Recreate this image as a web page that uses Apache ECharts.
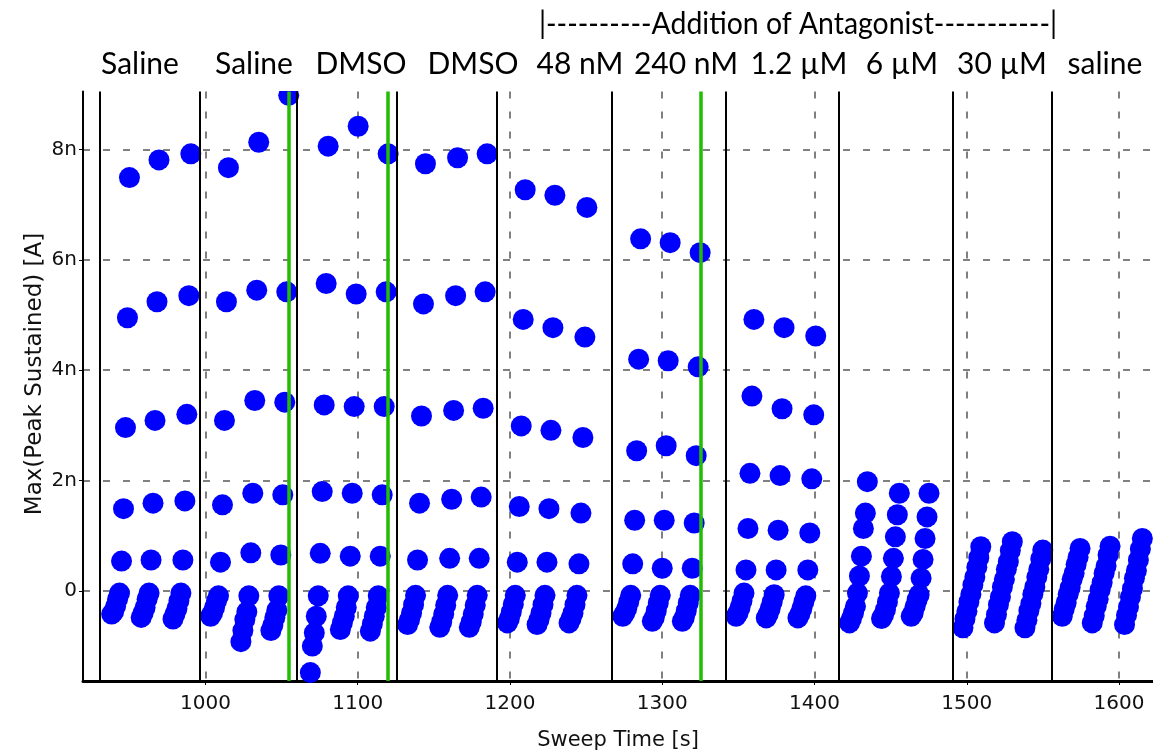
<!DOCTYPE html>
<html>
<head>
<meta charset="utf-8">
<script src="https://cdn.jsdelivr.net/npm/echarts@6/dist/echarts.min.js"></script>
<style>
  html, body { margin: 0; padding: 0; background: #ffffff; }
  #chart { width: 1153px; height: 756px; }
</style>
</head>
<body>
<div id="chart"></div>
<script>
// Axis ticks and ranges (time in s, current in nA)
const xTicks = [1000, 1100, 1200, 1300, 1400, 1500, 1600];
const yTicks = [0, 2, 4, 6, 8];
const timeRange = [919.6, 1622.3];
const currentRange = [-1.633, 9.05];

// Solution applied in each recording block
const conditions = ['Saline', 'Saline', 'DMSO', 'DMSO', '48 nM', '240 nM', '1.2 \u00b5M', '6 \u00b5M', '30 \u00b5M', 'saline'];
const antagonistHeader = '|----------Addition of Antagonist-----------|';

// Time of each test pulse relative to the start of its sweep (s)
const pulseOffsets = [0, 1.3, 2.6, 3.9, 5.2, 6.5, 7.8, 9.1, 10.4, 11.7];

// Sweep start times (s) and peak/sustained maxima of every pulse (nA)
const startsSaline1 = [938.4, 957.8, 978.7];
const peaksSaline1 = [
  [-0.42, -0.38, -0.28, -0.15, -0.04, 0.54, 1.49, 2.96, 4.95, 7.49],
  [-0.48, -0.40, -0.30, -0.15, -0.04, 0.56, 1.59, 3.09, 5.24, 7.81],
  [-0.51, -0.42, -0.32, -0.18, -0.04, 0.56, 1.63, 3.20, 5.35, 7.92]
];
const startsSaline2 = [1003.4, 1023.3, 1043.0];
const peaksSaline2 = [
  [-0.46, -0.40, -0.30, -0.18, -0.09, 0.52, 1.56, 3.09, 5.24, 7.67],
  [-0.92, -0.72, -0.52, -0.38, -0.09, 0.69, 1.77, 3.45, 5.45, 8.13],
  [-0.72, -0.62, -0.48, -0.35, -0.09, 0.65, 1.74, 3.42, 5.42, 8.98]
];
const startsDmso1 = [1068.9, 1088.6, 1108.3];
const peaksDmso1 = [
  [-1.48, -1.00, -0.76, -0.46, -0.09, 0.68, 1.80, 3.37, 5.57, 8.06],
  [-0.70, -0.58, -0.46, -0.30, -0.09, 0.63, 1.77, 3.34, 5.38, 8.42],
  [-0.73, -0.60, -0.46, -0.30, -0.09, 0.63, 1.74, 3.34, 5.42, 7.92]
];
const startsDmso2 = [1132.8, 1153.9, 1173.3];
const peaksDmso2 = [
  [-0.61, -0.52, -0.40, -0.25, -0.08, 0.56, 1.59, 3.17, 5.20, 7.74],
  [-0.66, -0.56, -0.42, -0.26, -0.08, 0.59, 1.66, 3.27, 5.35, 7.85],
  [-0.66, -0.56, -0.42, -0.26, -0.08, 0.59, 1.70, 3.31, 5.42, 7.92]
];
const starts48nM = [1198.3, 1217.8, 1238.8];
const peaks48nM = [
  [-0.58, -0.50, -0.38, -0.24, -0.08, 0.52, 1.53, 2.99, 4.92, 7.27],
  [-0.61, -0.52, -0.40, -0.25, -0.08, 0.52, 1.49, 2.91, 4.77, 7.17],
  [-0.58, -0.50, -0.40, -0.25, -0.08, 0.49, 1.41, 2.78, 4.60, 6.95]
];
const starts240nM = [1274.1, 1293.5, 1313.2];
const peaks240nM = [
  [-0.46, -0.40, -0.32, -0.20, -0.08, 0.49, 1.28, 2.54, 4.20, 6.38],
  [-0.55, -0.48, -0.36, -0.22, -0.08, 0.41, 1.28, 2.63, 4.17, 6.31],
  [-0.55, -0.48, -0.36, -0.22, -0.08, 0.41, 1.23, 2.45, 4.06, 6.13]
];
const starts1p2uM = [1348.5, 1368.3, 1389.1];
const peaks1p2uM = [
  [-0.46, -0.40, -0.30, -0.18, -0.04, 0.38, 1.13, 2.13, 3.53, 4.92],
  [-0.49, -0.42, -0.32, -0.20, -0.07, 0.38, 1.10, 2.09, 3.30, 4.77],
  [-0.49, -0.42, -0.32, -0.20, -0.09, 0.38, 1.05, 2.03, 3.19, 4.62]
];
const starts6uM = [1423.0, 1444.0, 1463.5];
const peaks6uM = [
  [-0.58, -0.50, -0.40, -0.28, -0.04, 0.27, 0.63, 1.13, 1.41, 1.98],
  [-0.50, -0.44, -0.34, -0.20, -0.04, 0.26, 0.59, 0.98, 1.38, 1.77],
  [-0.46, -0.40, -0.28, -0.16, -0.07, 0.23, 0.57, 0.95, 1.34, 1.77]
];
const starts30uM = [1497.5, 1518.2, 1538.2];
const peaks30uM = [
  [-0.67, -0.51, -0.37, -0.20, -0.06, 0.11, 0.25, 0.43, 0.60, 0.80],
  [-0.58, -0.43, -0.25, -0.11, 0.07, 0.21, 0.39, 0.53, 0.73, 0.89],
  [-0.67, -0.53, -0.36, -0.23, -0.06, 0.07, 0.25, 0.39, 0.58, 0.74]
];
const startsWashout = [1562.7, 1582.4, 1603.6];
const peaksWashout = [
  [-0.46, -0.33, -0.21, -0.06, 0.06, 0.21, 0.32, 0.48, 0.61, 0.77],
  [-0.58, -0.45, -0.28, -0.15, 0.02, 0.15, 0.32, 0.45, 0.65, 0.81],
  [-0.61, -0.44, -0.29, -0.11, 0.04, 0.23, 0.37, 0.56, 0.76, 0.95]
];

// Solution exchanges (black) and compound additions (green), s
const solutionChanges = [930.9, 996.4, 1059.9, 1125.6, 1191.0, 1267.0, 1341.7, 1415.6, 1490.5, 1555.8];
const drugAdditions = [1054.8, 1119.7, 1325.0];

// ---- layout ----
const conditionLabelX = [140, 254, 361, 473, 580, 686, 799, 902, 1002, 1105];
const conditionLabelY = 64;
const headerX = 798;
const headerY = 24;
const headerScaleX = 0.947;
const yTitlePos = [35, 374];

const blocks = [
  [startsSaline1, peaksSaline1], [startsSaline2, peaksSaline2],
  [startsDmso1, peaksDmso1], [startsDmso2, peaksDmso2],
  [starts48nM, peaks48nM], [starts240nM, peaks240nM],
  [starts1p2uM, peaks1p2uM], [starts6uM, peaks6uM],
  [starts30uM, peaks30uM], [startsWashout, peaksWashout]
];
const points = [];
blocks.forEach(([starts, peaks]) => {
  starts.forEach((t0, s) => {
    peaks[s].forEach((v, i) => points.push([t0 + pulseOffsets[i], v]));
  });
});

const gridColor = '#808080';
const axisFont = 'DejaVu Sans';
const textColor = '#111111';

const chart = echarts.init(document.getElementById('chart'), null, { renderer: 'canvas' });

const markLines = solutionChanges.map(t => ({
  xAxis: t, lineStyle: { color: '#000000', width: 2, type: 'solid' }
})).concat(drugAdditions.map(t => ({
  xAxis: t, lineStyle: { color: '#22bd00', width: 3.5, type: 'solid' }
})));

const graphics = conditions.map((txt, i) => ({
  type: 'text', x: conditionLabelX[i], y: conditionLabelY, z: 100,
  style: { text: txt, font: '30px Lato', fill: '#000000', align: 'center', verticalAlign: 'middle' }
}));
graphics.push({
  type: 'text', x: headerX, y: headerY, z: 100, scaleX: headerScaleX,
  style: { text: antagonistHeader, font: '30px Lato', fill: '#000000', align: 'center', verticalAlign: 'middle' }
});
graphics.push({
  type: 'text', x: yTitlePos[0], y: yTitlePos[1], rotation: Math.PI / 2, z: 100,
  style: { text: 'Max(Peak Sustained) [A]', font: '23px "DejaVu Sans"', fill: textColor, align: 'center', verticalAlign: 'middle' }
});
// mask points that run past the plot's top and bottom edges
graphics.push({ type: 'rect', z: 50, shape: { x: 84, y: 76, width: 1069, height: 15 }, style: { fill: '#ffffff' } });
graphics.push({ type: 'rect', z: 50, shape: { x: 290, y: 686.6, width: 40, height: 8 }, style: { fill: '#ffffff' } });

chart.setOption({
  animation: false,
  backgroundColor: '#ffffff',
  grid: { left: 83, right: 0, top: 91.5, bottom: 71, containLabel: false },
  xAxis: {
    type: 'value',
    min: timeRange[0], max: timeRange[1],
    name: 'Sweep Time [s]', nameLocation: 'middle', nameGap: 49,
    nameTextStyle: { fontFamily: axisFont, fontSize: 21, color: textColor },
    axisLine: { show: true, onZero: false, lineStyle: { color: '#000000', width: 3 } },
    axisTick: { show: true, length: 4, lineStyle: { color: '#000000', width: 1 }, customValues: xTicks },
    axisLabel: {
      customValues: xTicks, margin: 13, fontFamily: axisFont, fontSize: 20, color: textColor,
      formatter: v => String(v)
    },
    splitLine: { show: true, lineStyle: { color: gridColor, width: 2, type: [7, 13] } }
  },
  yAxis: {
    type: 'value',
    min: currentRange[0], max: currentRange[1],
    axisLine: { show: true, onZero: false, lineStyle: { color: '#000000', width: 2 } },
    axisTick: { show: true, length: 4, lineStyle: { color: '#000000', width: 1 }, customValues: yTicks },
    axisLabel: {
      customValues: yTicks, margin: 6, fontFamily: axisFont, fontSize: 20, color: textColor,
      formatter: v => (v === 0 ? '0' : v + 'n')
    },
    splitLine: { show: true, lineStyle: { color: gridColor, width: 2, type: [7, 13] } }
  },
  graphic: graphics,
  series: [{
    type: 'scatter',
    data: points,
    symbol: 'circle',
    symbolSize: 21,
    itemStyle: { color: '#0000ff', opacity: 1 },
    clip: false,
    z: 2,
    markLine: {
      silent: true, symbol: ['none', 'none'], animation: false,
      label: { show: false },
      data: markLines
    }
  }]
});
</script>
</body>
</html>
